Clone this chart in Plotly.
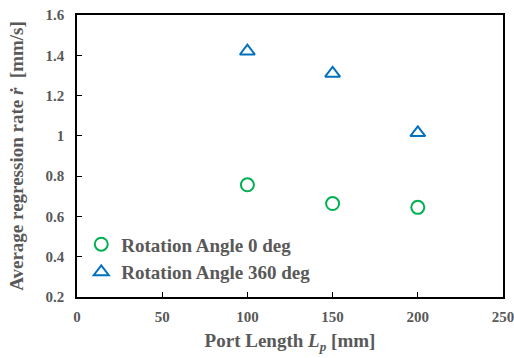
import plotly.graph_objects as go

port_length = [100, 150, 200]
rate_0deg = [0.757, 0.664, 0.645]
rate_360deg = [1.42, 1.31, 1.015]
series_names = ["Rotation Angle 0 deg", "Rotation Angle 360 deg"]
x_ticks = [0, 50, 100, 150, 200, 250]
y_ticks = [0.2, 0.4, 0.6, 0.8, 1.0, 1.2, 1.4, 1.6]
y_labels = ["0.2", "0.4", "0.6", "0.8", "1", "1.2", "1.4", "1.6"]

gray = "#595959"
font_family = "Liberation Serif, Times New Roman, serif"

fig = go.Figure()
fig.add_trace(go.Scatter(
    x=port_length, y=rate_0deg, mode="markers", name="<b>" + series_names[0] + "</b>",
    marker=dict(symbol="circle-open", size=13, color="#00B050", line=dict(width=2, color="#00B050")),
))
fig.add_trace(go.Scatter(
    x=port_length, y=rate_360deg, mode="markers", name="<b>" + series_names[1] + "</b>",
    marker=dict(symbol="triangle-up-open", size=13, color="#0070C0", line=dict(width=2, color="#0070C0")),
))

axis_common = dict(
    showline=True, linecolor="black", linewidth=1.5, mirror=True,
    ticks="inside", ticklen=5, tickcolor="black", tickwidth=1,
    showgrid=False, zeroline=False, automargin=False,
    ticklabeloverflow="allow",
    tickfont=dict(family=font_family, size=15, color=gray),
)

fig.update_layout(
    width=514, height=358,
    margin=dict(l=77, r=11, t=15, b=61),
    paper_bgcolor="white", plot_bgcolor="white",
    font=dict(family=font_family, color=gray),
    showlegend=True,
    legend=dict(
        x=0.01, y=0.02, xanchor="left", yanchor="bottom",
        bgcolor="rgba(0,0,0,0)", font=dict(family=font_family, size=19, color=gray),
        itemwidth=30, tracegroupgap=0,
    ),
    xaxis=dict(
        range=[0, 250], tickvals=x_ticks, ticktext=["<b>%d</b>" % v for v in x_ticks],
        ticklabelstandoff=5,
        title=dict(text="<b>Port Length <i>L<sub>p</sub></i> [mm]</b>",
                   font=dict(family=font_family, size=19, color=gray), standoff=10),
        **axis_common,
    ),
    yaxis=dict(
        range=[0.2, 1.6], tickvals=y_ticks, ticktext=["<b>%s</b>" % s for s in y_labels],
        ticklabelstandoff=8,
        title=dict(text="<b>Average regression rate <i>ṙ</i>  [mm/s]</b>",
                   font=dict(family=font_family, size=19, color=gray), standoff=17),
        **axis_common,
    ),
)

fig.write_html("out.html", config={"displayModeBar": False},
               post_script="document.body.style.margin='0';")
